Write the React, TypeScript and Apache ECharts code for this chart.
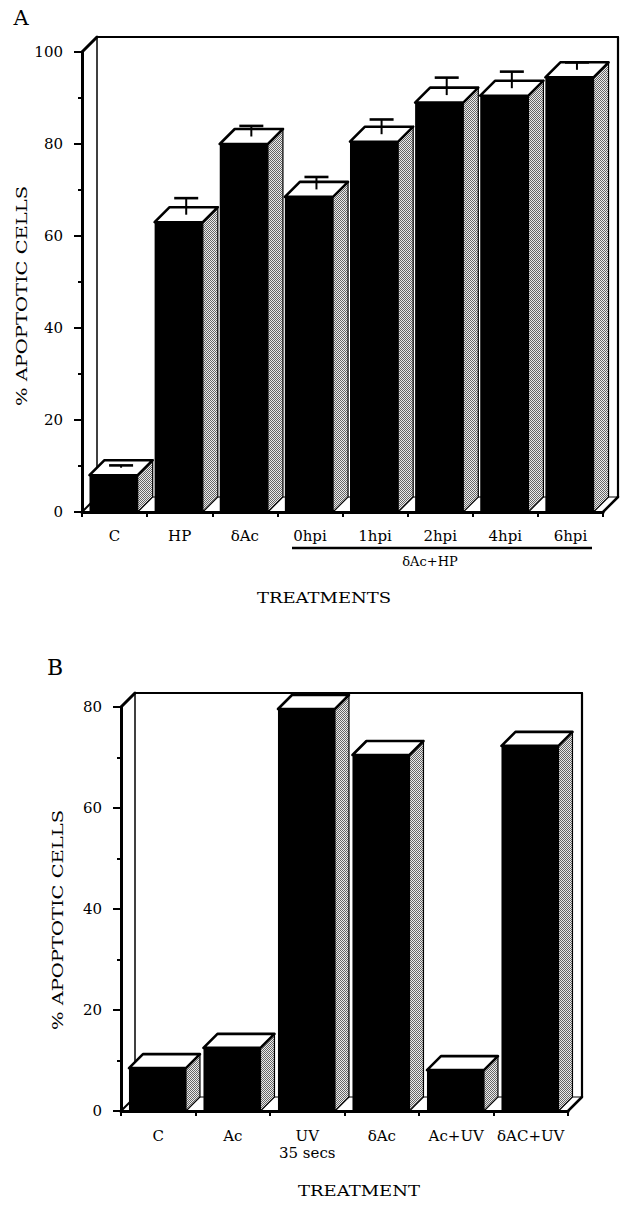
import React, { useEffect, useRef } from 'react';
import * as echarts from 'echarts';

const FONT = '"DejaVu Serif", "Liberation Serif", serif';

// Panel A
const catsA = ['C', 'HP', 'δAc', '0hpi', '1hpi', '2hpi', '4hpi', '6hpi'];
const valsA = [8, 63, 80, 68.5, 80.5, 89, 90.5, 94.5];
const errsA = [0.5, 3.6, 2.3, 2.7, 3.2, 3.8, 3.6, 1.6];
const yMaxA = 100;

// Panel B
const catsB = ['C', 'Ac', 'UV\n35 secs', 'δAc', 'Ac+UV', 'δAC+UV'];
const valsB = [8.5, 12.5, 79.6, 70.5, 8.1, 72.3];
const yMaxB = 80;

function makePattern(): any {
  try {
    const c = document.createElement('canvas');
    c.width = 2;
    c.height = 2;
    const ctx = c.getContext('2d');
    if (!ctx) return '#a8a8a8';
    ctx.fillStyle = '#ececec';
    ctx.fillRect(0, 0, 2, 2);
    ctx.fillStyle = '#666666';
    ctx.fillRect(0, 0, 1, 1);
    ctx.fillRect(1, 1, 1, 1);
    return { image: c, repeat: 'repeat' };
  } catch (e) {
    return '#a8a8a8';
  }
}

function frameItem(d: number) {
  return (params: any) => {
    const cs = params.coordSys;
    const x = cs.x, y = cs.y, w = cs.width, h = cs.height;
    const L = (x1: number, y1: number, x2: number, y2: number, lw: number) => ({
      type: 'line',
      shape: { x1, y1, x2, y2 },
      style: { stroke: '#000', lineWidth: lw, lineCap: 'round' },
    });
    return {
      type: 'group',
      children: [
        L(x + d, y - d, x + d, y + h - d, 1.5),
        L(x + d, y - d, x + w + d, y - d, 2),
        L(x + w + d, y - d, x + w + d, y + h - d, 2.2),
        L(x + d, y + h - d, x + w + d, y + h - d, 1),
        L(x, y, x + d, y - d, 3),
        L(x, y + h, x + d, y + h - d, 2),
        L(x + w, y + h, x + w + d, y + h - d, 2.5),
      ],
    };
  };
}

function barItem(d: number, offFrac: number, wFrac: number, fill: any) {
  return (params: any, api: any) => {
    const idx = api.value(0);
    const val = api.value(1);
    const err = api.value(2) || 0;
    const c0 = api.coord([idx, 0]);
    const c1 = api.coord([idx, val]);
    const band = api.size([1, 0])[0];
    const x0 = c0[0] - band / 2 + band * offFrac;
    const x1 = x0 + band * wFrac;
    const yb = c0[1];
    const yt = c1[1];
    const children: any[] = [
      {
        type: 'polygon',
        shape: { points: [[x1, yt], [x1 + d, yt - d], [x1 + d, yb - d], [x1, yb]] },
        style: { fill, stroke: '#000', lineWidth: 1.2 },
      },
      {
        type: 'rect',
        shape: { x: x0, y: yt, width: x1 - x0, height: yb - yt },
        style: { fill: '#000' },
      },
      {
        type: 'polygon',
        shape: { points: [[x0, yt], [x1, yt], [x1 + d, yt - d], [x0 + d, yt - d]] },
        style: { fill: '#fff', stroke: '#000', lineWidth: 2.6, lineJoin: 'round' },
      },
    ];
    if (err > 0) {
      const pxErr = c0[1] - api.coord([idx, err])[1];
      const cx = (x0 + x1) / 2 + d / 2;
      const ty = yt - d / 2;
      const cy = ty - pxErr;
      children.push({
        type: 'line',
        shape: { x1: cx, y1: ty, x2: cx, y2: cy },
        style: { stroke: '#000', lineWidth: 2 },
      });
      children.push({
        type: 'line',
        shape: { x1: cx - 12, y1: cy, x2: cx + 12, y2: cy },
        style: { stroke: '#000', lineWidth: 2.6 },
      });
    }
    return { type: 'group', children };
  };
}

function yAxisCfg(grid: number, max: number) {
  return {
    gridIndex: grid,
    type: 'value',
    min: 0,
    max,
    interval: 20,
    axisLine: { show: true, lineStyle: { color: '#000', width: 3 } },
    axisTick: { show: true, inside: false, length: 8, lineStyle: { color: '#000', width: 2 } },
    minorTick: { show: true, splitNumber: 2, length: 4, lineStyle: { color: '#000', width: 2 } },
    splitLine: { show: false },
    axisLabel: { color: '#000', fontFamily: FONT, fontSize: 15, margin: 19 },
  };
}

function xAxisCfg(grid: number, data: string[], margin: number) {
  return {
    gridIndex: grid,
    type: 'category',
    data,
    boundaryGap: true,
    axisLine: { show: true, lineStyle: { color: '#000', width: 3 } },
    axisTick: { show: true, inside: false, length: 5, interval: 0, alignWithLabel: false, lineStyle: { color: '#000', width: 2 } },
    splitLine: { show: false },
    axisLabel: { interval: 0, color: '#000', fontFamily: FONT, fontSize: 15, margin, lineHeight: 17 },
  };
}

function txt(text: string, x: number, y: number, size: number, extra: any = {}) {
  return {
    type: 'text',
    x,
    y,
    ...extra,
    style: {
      text,
      fill: '#000',
      fontFamily: FONT,
      fontSize: size,
      align: 'center',
      verticalAlign: 'middle',
      textAlign: 'center',
      textVerticalAlign: 'middle',
    },
  };
}

export default function App() {
  const ref = useRef<HTMLDivElement>(null);
  useEffect(() => {
    document.body.style.margin = '0';
    const chart = echarts.init(ref.current!, null, { renderer: 'svg' });
    const pattern = makePattern();
    const option: any = {
      animation: false,
      backgroundColor: '#fff',
      grid: [
        { left: 82, top: 52, width: 521, height: 460, containLabel: false },
        { left: 121, top: 707, width: 447, height: 404, containLabel: false },
      ],
      xAxis: [xAxisCfg(0, catsA, 15), xAxisCfg(1, catsB, 16)],
      yAxis: [yAxisCfg(0, yMaxA), yAxisCfg(1, yMaxB)],
      series: [
        {
          type: 'custom',
          xAxisIndex: 0,
          yAxisIndex: 0,
          z: 1,
          silent: true,
          data: [[0, 0]],
          renderItem: frameItem(15),
        },
        {
          type: 'custom',
          xAxisIndex: 0,
          yAxisIndex: 0,
          z: 3,
          silent: true,
          encode: { x: 0, y: 1 },
          data: valsA.map((v, i) => [i, v, errsA[i]]),
          renderItem: barItem(15, 0.115, 0.74, pattern),
        },
        {
          type: 'custom',
          xAxisIndex: 1,
          yAxisIndex: 1,
          z: 1,
          silent: true,
          data: [[0, 0]],
          renderItem: frameItem(14),
        },
        {
          type: 'custom',
          xAxisIndex: 1,
          yAxisIndex: 1,
          z: 3,
          silent: true,
          encode: { x: 0, y: 1 },
          data: valsB.map((v, i) => [i, v, 0]),
          renderItem: barItem(14, 0.107, 0.765, pattern),
        },
      ],
      graphic: [
        txt('A', 21, 18, 21),
        txt('B', 55, 667, 22),
        txt('% APOPTOTIC CELLS', 22, 296, 15, { rotation: Math.PI / 2, scaleX: 1.3 }),
        txt('% APOPTOTIC CELLS', 58, 920, 15, { rotation: Math.PI / 2, scaleX: 1.3 }),
        {
          type: 'line',
          shape: { x1: 292, y1: 548, x2: 592, y2: 548 },
          style: { stroke: '#000', lineWidth: 2.5 },
        },
        txt('δAc+HP', 430, 561, 13),
        txt('TREATMENTS', 324, 598, 15, { scaleX: 1.2 }),
        txt('TREATMENT', 359, 1191, 15, { scaleX: 1.2 }),
      ],
    };
    chart.setOption(option);
    return () => chart.dispose();
  }, []);
  return <div ref={ref} style={{ width: 626, height: 1205 }} />;
}
